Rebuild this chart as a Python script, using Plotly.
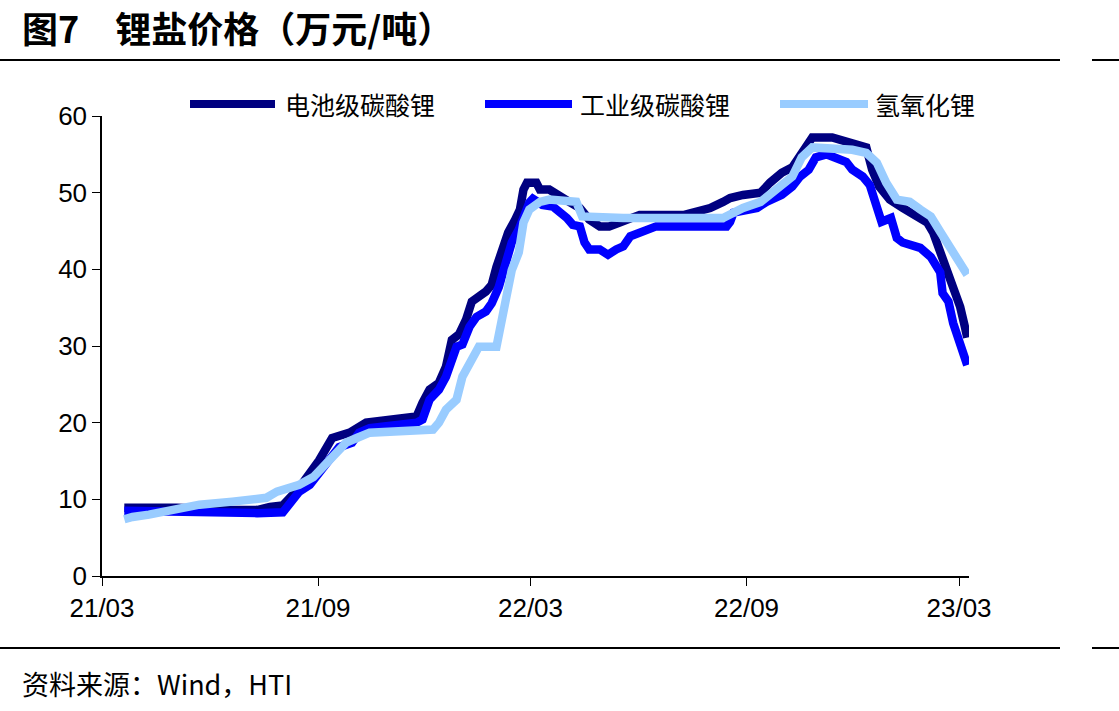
import plotly.graph_objects as go

# ---------------- data ----------------
battery_dates = ["2021-03-20","2021-05-04","2021-06-20","2021-07-11","2021-07-22","2021-08-02","2021-08-16",
    "2021-09-02","2021-09-13","2021-09-28","2021-10-12","2021-11-03","2021-11-24","2021-11-29","2021-12-05",
    "2021-12-13","2021-12-19","2021-12-24","2021-12-30","2022-01-05","2022-01-10","2022-01-22","2022-01-27",
    "2022-01-31","2022-02-06","2022-02-10","2022-02-16","2022-02-20","2022-02-23","2022-02-26","2022-03-06",
    "2022-03-09","2022-03-17","2022-03-26","2022-04-03","2022-04-12","2022-04-20","2022-04-29","2022-05-07",
    "2022-05-16","2022-05-25","2022-06-02","2022-07-10","2022-07-23","2022-08-01","2022-08-12","2022-08-18",
    "2022-08-29","2022-09-13","2022-09-21","2022-10-01","2022-10-10","2022-10-18","2022-10-27","2022-11-13",
    "2022-11-28","2022-12-03","2022-12-12","2022-12-17","2022-12-23","2023-01-01","2023-01-12","2023-01-24",
    "2023-02-02","2023-02-07","2023-02-13","2023-02-19","2023-02-24","2023-03-02","2023-03-06","2023-03-08"]
battery_vals = [8.9,8.9,8.6,8.6,9.0,9.2,11.5,
    15.1,18.0,18.7,20.0,20.4,20.8,22.6,24.3,
    25.2,27.3,30.8,31.5,33.4,35.8,37.1,38.0,
    40.3,43.0,44.8,46.5,47.8,50.4,51.3,51.3,
    50.4,50.4,49.7,48.8,48.0,46.5,45.6,45.6,
    46.1,46.7,47.1,47.1,47.5,48.0,48.8,49.3,
    49.7,50.0,51.3,52.6,53.3,55.2,57.2,57.2,
    56.7,56.3,55.9,53.0,50.8,49.1,48.0,46.9,
    46.1,44.8,42.2,39.9,37.7,35.1,32.5,31.1]

industrial_dates = ["2021-03-20","2021-05-04","2021-07-11","2021-08-02","2021-08-08","2021-08-16","2021-08-25",
    "2021-09-02","2021-09-11","2021-09-19","2021-09-30","2021-10-06","2021-10-15","2021-11-24","2021-11-29",
    "2021-12-05","2021-12-13","2021-12-19","2021-12-28","2022-01-02","2022-01-08","2022-01-14","2022-01-22",
    "2022-01-27","2022-02-02","2022-02-08","2022-02-13","2022-02-19","2022-02-23","2022-02-28","2022-03-03",
    "2022-03-11","2022-03-20","2022-03-26","2022-04-01","2022-04-06","2022-04-12","2022-04-16","2022-04-20",
    "2022-04-29","2022-05-06","2022-05-13","2022-05-19","2022-05-25","2022-06-02","2022-06-10","2022-06-16",
    "2022-08-15","2022-08-18","2022-08-21","2022-09-04","2022-09-10","2022-09-18","2022-10-01","2022-10-10",
    "2022-10-16","2022-10-24","2022-10-30","2022-11-08","2022-11-25","2022-11-30","2022-12-09","2022-12-15",
    "2022-12-21","2022-12-25","2023-01-02","2023-01-07","2023-01-12","2023-01-27","2023-02-05","2023-02-13",
    "2023-02-15","2023-02-20","2023-02-24","2023-03-02","2023-03-08"]
industrial_vals = [8.5,8.3,8.2,8.3,9.3,11.0,11.9,
    13.4,15.1,16.8,17.4,18.7,19.3,20.0,20.4,
    23.0,24.3,26.0,29.9,30.2,32.5,33.8,34.5,
    35.6,37.7,41.3,43.5,45.2,46.9,48.7,49.2,
    48.4,48.2,47.5,46.7,45.8,45.6,43.5,42.6,
    42.6,41.9,42.6,43.0,44.3,44.8,45.2,45.6,
    45.6,46.2,47.4,48.0,48.0,48.8,49.7,50.8,
    52.0,53.0,54.6,55.0,54.0,53.0,52.1,51.0,
    48.2,46.2,46.7,44.1,43.5,42.8,41.6,39.6,
    36.9,35.8,33.0,29.9,27.5]

hydroxide_dates = ["2021-03-20","2021-03-27","2021-04-10","2021-04-25","2021-05-12","2021-05-23","2021-06-20",
    "2021-07-19","2021-07-28","2021-08-16","2021-08-28","2021-09-08","2021-09-13","2021-09-19","2021-09-25",
    "2021-10-04","2021-10-15","2021-12-08","2021-12-13","2021-12-19","2021-12-28","2022-01-02","2022-01-08",
    "2022-01-16","2022-01-31","2022-02-04","2022-02-08","2022-02-13","2022-02-19","2022-02-23","2022-02-28",
    "2022-03-04","2022-03-09","2022-03-17","2022-04-09","2022-04-14","2022-05-19","2022-08-12","2022-08-21",
    "2022-08-29","2022-09-13","2022-09-29","2022-10-10","2022-10-18","2022-10-27","2022-11-30","2022-12-12",
    "2022-12-21","2022-12-29","2023-01-07","2023-01-18","2023-01-27","2023-02-05","2023-02-13","2023-02-22",
    "2023-03-02","2023-03-08"]
hydroxide_vals = [7.4,7.7,8.0,8.4,9.0,9.3,9.7,
    10.2,11.0,11.9,12.9,14.8,15.4,16.4,17.4,
    18.0,18.7,19.1,20.0,21.7,23.0,26.0,27.8,
    29.9,29.9,33.0,36.0,39.9,42.2,46.1,47.8,
    48.2,48.8,49.1,48.8,46.9,46.7,46.7,47.4,
    48.0,48.8,50.8,52.1,54.6,55.9,55.6,55.2,
    53.9,51.3,49.1,48.8,47.8,46.9,44.9,42.9,
    40.9,39.3]

series_names = ["电池级碳酸锂", "工业级碳酸锂", "氢氧化锂"]
series_colors = ["#000080", "#0000FF", "#99CCFF"]
series_dates = [battery_dates, industrial_dates, hydroxide_dates]
series_vals = [battery_vals, industrial_vals, hydroxide_vals]

y_ticks = [0, 10, 20, 30, 40, 50, 60]
x_tick_vals = ["2021-03-01", "2021-09-01", "2022-03-01", "2022-09-01", "2023-03-01"]
x_tick_text = ["21/03", "21/09", "22/03", "22/09", "23/03"]

title_text = "图7　锂盐价格（万元/吨）"
source_text = "资料来源：Wind，HTI"

# ---------------- figure ----------------
W, H = 1119, 711
L, R, T, B = 102, 150, 116, 135
pw = W - L - R
ph = H - T - B

def px_x(p):
    return (p - L) / pw

def px_y(p):
    return (H - B - p) / ph

fig = go.Figure()
for name, color, xs, ys in zip(series_names, series_colors, series_dates, series_vals):
    fig.add_trace(go.Scatter(x=xs, y=ys, mode="lines", name=name,
                             line=dict(color=color, width=8.5), showlegend=False))

cjk = "Noto Sans CJK SC"
num_font = "Liberation Sans Narrow, Arial Narrow, Liberation Sans, Arial"

shapes = []
annotations = []
# custom legend
leg_x = [(190, 275, 283), (485, 572, 578), (780, 868, 873)]
for (x0, x1, xt), name, color in zip(leg_x, series_names, series_colors):
    shapes.append(dict(type="line", xref="paper", yref="paper",
                       x0=px_x(x0), x1=px_x(x1), y0=px_y(104), y1=px_y(104),
                       line=dict(color=color, width=8)))
    annotations.append(dict(text=name, xref="paper", yref="paper", x=px_x(xt), y=px_y(104),
                            xanchor="left", yanchor="middle", showarrow=False,
                            font=dict(family=cjk, size=25, color="#000000")))

# header / footer rules
for yy in (60, 648):
    shapes.append(dict(type="line", xref="paper", yref="paper", x0=px_x(0), x1=px_x(1060),
                       y0=px_y(yy), y1=px_y(yy), line=dict(color="#000000", width=2)))
    shapes.append(dict(type="line", xref="paper", yref="paper", x0=px_x(1092), x1=px_x(1119),
                       y0=px_y(yy), y1=px_y(yy), line=dict(color="#000000", width=2)))

annotations.append(dict(text="<b>" + title_text + "</b>", xref="paper", yref="paper",
                        x=px_x(20), y=px_y(27), xanchor="left", yanchor="middle", showarrow=False,
                        font=dict(family=cjk, size=36, color="#000000")))
annotations.append(dict(text=source_text, xref="paper", yref="paper",
                        x=px_x(20), y=px_y(683), xanchor="left", yanchor="middle", showarrow=False,
                        font=dict(family=cjk, size=27, color="#000000")))

fig.update_layout(
    width=W, height=H,
    margin=dict(l=L, r=R, t=T, b=B, pad=0),
    paper_bgcolor="white", plot_bgcolor="white",
    shapes=shapes, annotations=annotations,
    xaxis=dict(type="date", range=["2021-03-01", "2023-03-09 12:00"],
               tickvals=x_tick_vals, ticktext=x_tick_text,
               showgrid=False, zeroline=False, showline=True, linecolor="#000000", linewidth=1.5,
               ticks="outside", ticklen=8, tickcolor="#000000", tickwidth=1,
               tickfont=dict(family=num_font, size=26, color="#000000")),
    yaxis=dict(range=[0, 60], tickvals=y_ticks,
               showgrid=False, zeroline=False, showline=True, linecolor="#000000", linewidth=1.5,
               ticks="outside", ticklen=8, tickcolor="#000000", tickwidth=1,
               tickfont=dict(family=num_font, size=26, color="#000000")),
)

fig.write_html("out.html")
